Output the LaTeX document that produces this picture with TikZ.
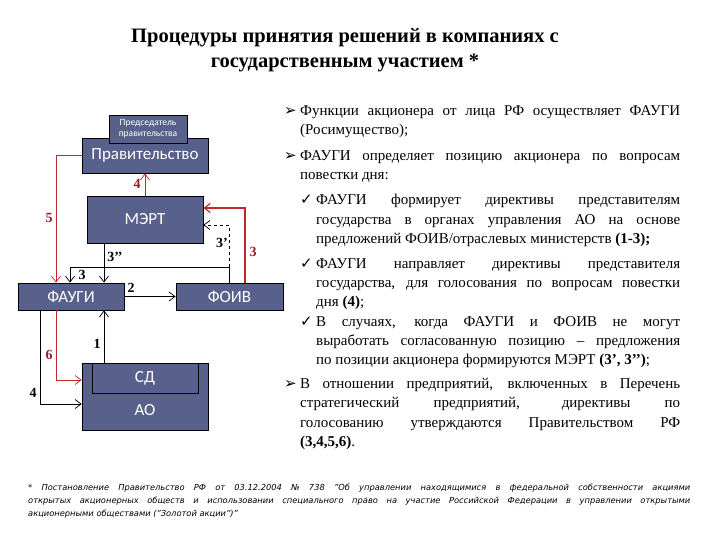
\documentclass[tikz,border=0pt]{standalone}
\usepackage{fontspec}
\setmainfont{Liberation Serif}
\setsansfont{DejaVu Sans}
\newfontfamily\dv{DejaVu Sans}
\newfontfamily\carl{Carlito}
\usetikzlibrary{arrows.meta}
\definecolor{bx}{RGB}{88,96,140}
\definecolor{rd}{RGB}{192,40,40}
\definecolor{rt}{RGB}{150,30,30}
\begin{document}
\begin{tikzpicture}[x=1pt,y=-1pt,
  box/.style={draw=black,line width=0.8pt,fill=bx,text=white,font=\carl\fontsize{17}{19}\selectfont,inner sep=0pt},
  ar/.style={-{Straight Barb[length=6pt,width=9pt]},line width=0.7pt},
  rar/.style={ar,draw=rd},
  lb/.style={font=\bfseries\fontsize{14}{15}\selectfont},
  rlb/.style={lb,text=rt},
  bl/.style={}]
\useasboundingbox (0,0) rectangle (720,540);
\fill[white] (0,0) rectangle (720,540);
\node[align=center,font=\bfseries\fontsize{20.5}{25}\selectfont] (title) at (345,50) {Процедуры принятия решений в компаниях с\\государственным участием *};
% boxes
\node[box,minimum width=126pt,minimum height=35pt] (gov) at (145,155.5) {\raisebox{-4pt}{Правительство}};
\node[box,minimum width=78pt,minimum height=28pt,font=\carl\fontsize{9.5}{11}\selectfont,align=center] (pred) at (148,129) {Председатель\\правительства};
\node[box,minimum width=116pt,minimum height=47pt] (mert) at (145,219.5) {МЭРТ};
\node[box,minimum width=106pt,minimum height=27pt] (faugi) at (71,296.5) {ФАУГИ};
\node[box,minimum width=107pt,minimum height=27pt] (foiv) at (229.5,296.5) {ФОИВ};
\node[box,minimum width=126pt,minimum height=67pt] (ao) at (145,396.5) {};
\node[draw=black,line width=0.8pt,fill=bx,minimum width=106pt,minimum height=30pt,inner sep=0pt,text=white,font=\carl\fontsize{17}{19}\selectfont] (sd) at (145,378) {СД};
\node[text=white,font=\carl\fontsize{17}{19}\selectfont] (aotxt) at (145,410) {АО};
% connectors
\draw[rar] (mert.north) -- (gov.south);
\node[rlb] (l4) at (137,184) {4};
\draw[rar] (gov.west |- 0,155) -| (faugi.north -| 56,0);
\node[rlb] (l5) at (49,218) {5};
\coordinate (j) at (229,267);
\draw[rar,line width=1.1pt] (foiv.north -| 245,0) |- (mert.east |- 0,208);
\node[rlb] (l3r) at (253,252) {3};
\draw[ar,dashed] (j) |- (mert.east |- 0,225);
\node[lb] (l3p) at (222,243) {3’};
\draw[line width=0.7pt] (foiv.north -| 229,0) -- (j);
\draw[ar] (j) -| (faugi.north -| 70,0);
\node[lb] (l3) at (82,275) {3};
\draw[ar] (mert.south -| 104,0) -- (faugi.north -| 104,0);
\node[lb] (l3pp) at (115,257) {3’’};
\draw[ar] (faugi.east) -- (foiv.west);
\node[lb] (l2) at (131,288) {2};
\draw[ar] (ao.north -| 104,0) -- (faugi.south -| 104,0);
\node[lb] (l1) at (97,344) {1};
\draw[rar] (faugi.south -| 56,0) |- (ao.west |- 0,380);
\node[rlb] (l6) at (49,355) {6};
\draw[ar] (faugi.south -| 40,0) |- (ao.west |- 0,404);
\node[lb] (l4b) at (33,393) {4};
% text
\node[anchor=north west,inner sep=0pt,text width=396pt,font=\fontsize{15}{19.2}\selectfont,align=justify] (txt) at (284,105) {%
\hangindent=16pt\hangafter=1\noindent\makebox[16pt][l]{\dv ➢}Функции акционера от лица РФ осуществляет ФАУГИ\linebreak (Росимущество);\par\vspace{7pt}
\hangindent=16pt\hangafter=1\noindent\makebox[16pt][l]{\dv ➢}ФАУГИ определяет позицию акционера по вопросам\linebreak повестки дня:\par\vspace{6pt}
\leftskip=16pt\hangindent=16pt\hangafter=1\noindent\makebox[16pt][l]{\dv ✓}ФАУГИ формирует директивы представителям\linebreak государства в органах управления АО на основе\linebreak предложений ФОИВ/отраслевых министерств \textbf{(1-3);}\par\vspace{6pt}
\hangindent=16pt\hangafter=1\noindent\makebox[16pt][l]{\dv ✓}ФАУГИ направляет директивы представителя\linebreak государства, для голосования по вопросам повестки\linebreak дня \textbf{(4)};\par
\hangindent=16pt\hangafter=1\noindent\makebox[16pt][l]{\dv ✓}В случаях, когда ФАУГИ и ФОИВ не могут\linebreak выработать согласованную позицию – предложения\linebreak по позиции акционера формируются МЭРТ \textbf{(3’, 3’’)};\par\vspace{5pt}
\leftskip=0pt\hangindent=16pt\hangafter=1\noindent\makebox[16pt][l]{\dv ➢}В отношении предприятий, включенных в Перечень\linebreak стратегический предприятий, директивы по\linebreak голосованию утверждаются Правительством РФ\linebreak \textbf{(3,4,5,6)}.\par};
\node[anchor=north west,inner sep=0pt,text width=662pt,font=\sffamily\itshape\fontsize{8.3}{13}\selectfont,align=justify] (fn) at (28,484) {* Постановление Правительство РФ от 03.12.2004 № 738 "Об управлении находящимися в федеральной собственности акциями\linebreak открытых акционерных обществ и использовании специального право на участие Российской Федерации в управлении открытыми\linebreak акционерными обществами ("Золотой акции")"};
\end{tikzpicture}
\end{document}
